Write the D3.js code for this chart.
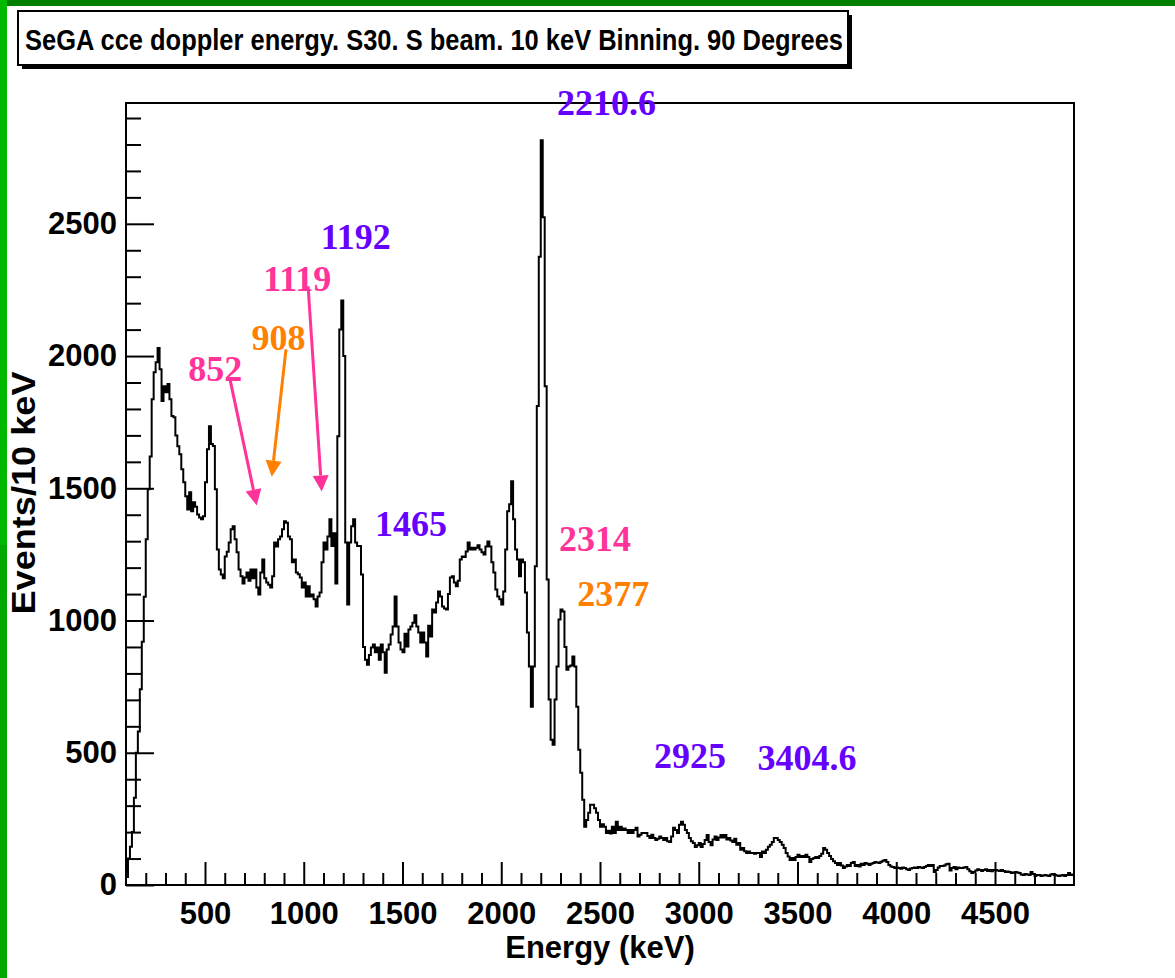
<!DOCTYPE html>
<html>
<head>
<meta charset="utf-8">
<script src="https://cdn.jsdelivr.net/npm/d3@7"></script>
<style>
  html, body { margin: 0; padding: 0; background: #ffffff; }
  svg { display: block; }
</style>
</head>
<body>
<svg id="chart" width="1175" height="978"></svg>
<script>
// ---- data -------------------------------------------------------------
const titleText = "SeGA cce doppler energy. S30. S beam. 10 keV Binning. 90 Degrees";
const xTitle = "Energy (keV)";
const yTitle = "Events/10 keV";

const binLow = 100;      // keV, lower edge of first bin
const binWidth = 10;     // keV per bin

// counts per 10 keV bin, 100 - 4900 keV
const counts = [
  30,100,145,200,330,500,580,740,920,1090,1307,1496,1620,1837,1939,1977,2030,1950,1830,1886,
  1863,1894,1837,1773,1769,1700,1659,1629,1572,1523,1470,1420,1485,1413,1447,1430,1401,1390,1383,1394,
  1523,1648,1735,1667,1660,1496,1269,1193,1174,1160,1242,1260,1295,1345,1356,1307,1258,1193,1167,1140,
  1163,1182,1150,1193,1160,1193,1125,1098,1182,1231,1160,1144,1135,1125,1167,1295,1280,1307,1318,1345,
  1375,1370,1318,1307,1220,1231,1182,1175,1163,1125,1144,1091,1130,1091,1098,1080,1053,1091,1106,1220,
  1295,1269,1318,1383,1282,1330,1140,1697,2100,2210,2000,1295,1061,1295,1356,1383,1295,1282,1282,1174,
  900,852,833,870,898,909,880,898,852,909,880,803,890,909,947,977,1091,977,917,890,
  880,950,902,966,977,992,1020,977,955,917,955,917,864,980,940,1042,1030,1068,1110,1091,
  1053,1045,1042,1100,1163,1167,1144,1130,1150,1231,1242,1240,1261,1295,1269,1275,1269,1275,1285,1269,
  1258,1250,1280,1299,1280,1220,1182,1117,1091,1080,1061,1110,1269,1413,1440,1527,1383,1269,1231,1167,
  1231,1220,1106,955,826,674,826,1205,1811,2375,2816,2525,1886,1155,701,549,530,701,826,1004,
  1042,1034,900,814,826,830,864,826,674,511,424,322,220,246,273,303,303,290,273,246,
  220,230,220,197,205,195,220,197,239,208,220,208,214,208,197,208,197,208,216,183,
  190,197,197,197,185,178,190,178,170,175,183,178,170,178,165,163,183,216,208,197,
  228,239,228,208,197,178,165,159,144,150,159,144,155,170,189,163,150,172,183,170,
  180,189,180,189,172,178,168,163,175,152,159,133,140,128,121,127,121,121,118,121,
  121,106,127,121,133,145,152,163,178,178,170,163,152,140,121,108,95,102,95,106,
  114,106,110,106,114,106,87,98,102,106,102,110,118,140,133,121,110,98,90,83,
  76,83,74,64,70,76,72,83,87,72,76,70,80,76,83,80,76,80,83,87,
  85,83,88,92,95,87,76,70,68,64,66,64,61,66,64,60,57,62,64,66,
  64,68,66,64,68,72,76,72,76,49,57,66,72,72,74,78,80,55,64,68,
  60,66,64,64,66,68,60,52,45,49,55,60,57,53,57,60,53,57,52,57,
  57,55,53,57,53,49,51,49,45,47,49,47,45,40,38,42,40,38,49,42,
  34,38,38,34,36,38,36,34,40,42,38,36,34,36,38,34,38,45,38,40
];

const xMajorTicks = [500, 1000, 1500, 2000, 2500, 3000, 3500, 4000, 4500];
const yMajorTicks = [0, 500, 1000, 1500, 2000, 2500];

// peak annotations: text, colour group, anchor (keV, counts) of the text's left baseline
const peakLabels        = ["2210.6", "1192", "1119", "908", "852", "1465", "2314", "2377", "2925", "3404.6"];
const peakGroups        = ["known", "known", "new", "tentative", "new", "known", "new", "tentative", "known", "known"];
const peakLabelEnergy   = [2282, 1086, 795, 736, 415, 1361, 2292, 2385, 2773, 3298];
const peakLabelCounts   = [2911, 2406, 2246, 2022, 1905, 1318, 1262, 1056, 442, 435];

// arrows from the weak-line labels down to the spectrum
const arrowGroups       = ["new", "tentative", "new"];
const arrowFromEnergy   = [627, 910, 1022];
const arrowFromCounts   = [1911, 2025, 2264];
const arrowToEnergy     = [762, 838, 1091];
const arrowToCounts     = [1435, 1544, 1488];

// ---- styling ----------------------------------------------------------
const groupColor = { known: "#6600ff", new: "#ff3399", tentative: "#ff8000" };
const sansBold = "'Liberation Sans', Arial, Helvetica, sans-serif";
const serif = "'Liberation Serif', 'Times New Roman', serif";

const W = 1175, H = 978;
const plot = { left: 126, right: 1074, top: 103, bottom: 885 };

const svg = d3.select("#chart");

// page edge bars
svg.append("rect").attr("x", 0).attr("y", 0).attr("width", W).attr("height", 6).attr("fill", "#008000");
svg.append("rect").attr("x", 0).attr("y", 0).attr("width", 7).attr("height", 545).attr("fill", "#00b800");
svg.append("rect").attr("x", 0).attr("y", 545).attr("width", 7).attr("height", H - 545).attr("fill", "#00a800");

// ---- scales -----------------------------------------------------------
const binHigh = binLow + binWidth * counts.length;
const x = d3.scaleLinear().domain([binLow, binHigh]).range([plot.left, plot.right]);
const y = d3.scaleLinear().domain([0, d3.max(counts) * 1.05]).range([plot.bottom, plot.top]);

// ---- axes (ticks drawn inside the frame) ------------------------------
const xMinor = d3.range(binLow + 100, binHigh, 100).filter(v => v % 500 !== 0);
const yMinor = d3.range(100, y.domain()[1], 100).filter(v => v % 500 !== 0);

function styleAxis(g) {
  g.select(".domain").remove();
  g.selectAll(".tick line").attr("stroke", "#000").attr("stroke-width", 2);
  g.selectAll(".tick text")
    .attr("fill", "#000")
    .style("font-family", sansBold)
    .style("font-weight", "bold")
    .style("font-size", "31px");
}

svg.append("g")
  .attr("transform", `translate(0,${plot.bottom})`)
  .call(d3.axisBottom(x).tickValues(xMinor).tickSize(-12).tickFormat(""))
  .call(styleAxis);
svg.append("g")
  .attr("transform", `translate(0,${plot.bottom})`)
  .call(d3.axisBottom(x).tickValues(xMajorTicks).tickSize(-23).tickPadding(17).tickFormat(d3.format("d")))
  .call(styleAxis);

svg.append("g")
  .attr("transform", `translate(${plot.left},0)`)
  .call(d3.axisLeft(y).tickValues(yMinor).tickSize(-15).tickFormat(""))
  .call(styleAxis);
svg.append("g")
  .attr("transform", `translate(${plot.left},0)`)
  .call(d3.axisLeft(y).tickValues(yMajorTicks).tickSize(-28).tickPadding(9).tickFormat(d3.format("d")))
  .call(styleAxis);

// ---- histogram --------------------------------------------------------
const steps = counts.map((c, i) => [binLow + i * binWidth, c]);
steps.push([binHigh, counts[counts.length - 1]]);
const stepLine = d3.line()
  .x(d => x(d[0]))
  .y(d => y(d[1]))
  .curve(d3.curveStepAfter);

svg.append("path")
  .datum(steps)
  .attr("d", stepLine)
  .attr("fill", "none")
  .attr("stroke", "#000")
  .attr("stroke-width", 2)
  .attr("stroke-linejoin", "miter");

// frame
svg.append("rect")
  .attr("x", plot.left).attr("y", plot.top)
  .attr("width", plot.right - plot.left).attr("height", plot.bottom - plot.top)
  .attr("fill", "none").attr("stroke", "#000").attr("stroke-width", 2);

// ---- axis titles ------------------------------------------------------
svg.append("text")
  .attr("x", (plot.left + plot.right) / 2).attr("y", 958)
  .attr("text-anchor", "middle")
  .style("font-family", sansBold).style("font-weight", "bold").style("font-size", "31px")
  .text(xTitle);

svg.append("text")
  .attr("transform", "translate(35,493) rotate(-90)")
  .attr("text-anchor", "middle")
  .attr("textLength", 243).attr("lengthAdjust", "spacingAndGlyphs")
  .style("font-family", sansBold).style("font-weight", "bold").style("font-size", "33px")
  .text(yTitle);

// ---- title box with drop shadow ---------------------------------------
const tb = { x: 18, y: 11, w: 830, h: 54, shadow: 4 };
svg.append("rect").attr("x", tb.x + tb.shadow).attr("y", tb.y + tb.shadow)
  .attr("width", tb.w).attr("height", tb.h).attr("fill", "#000");
svg.append("rect").attr("x", tb.x).attr("y", tb.y)
  .attr("width", tb.w).attr("height", tb.h)
  .attr("fill", "#fff").attr("stroke", "#000").attr("stroke-width", 2);
svg.append("text")
  .attr("x", 25).attr("y", 50)
  .attr("textLength", 818).attr("lengthAdjust", "spacingAndGlyphs")
  .style("font-family", sansBold).style("font-weight", "bold").style("font-size", "29px")
  .text(titleText);

// ---- arrows -----------------------------------------------------------
const arrows = arrowGroups.map((g, i) => ({
  color: groupColor[g],
  x1: x(arrowFromEnergy[i]), y1: y(arrowFromCounts[i]),
  x2: x(arrowToEnergy[i]),   y2: y(arrowToCounts[i])
}));
const headLen = 16, headHalf = 8;
arrows.forEach(a => {
  const dx = a.x2 - a.x1, dy = a.y2 - a.y1;
  const len = Math.hypot(dx, dy);
  const ux = dx / len, uy = dy / len;
  const bx = a.x2 - ux * headLen, by = a.y2 - uy * headLen;
  svg.append("line")
    .attr("x1", a.x1).attr("y1", a.y1).attr("x2", bx).attr("y2", by)
    .attr("stroke", a.color).attr("stroke-width", 3);
  svg.append("path")
    .attr("d", `M${a.x2},${a.y2}L${bx - uy * headHalf},${by + ux * headHalf}L${bx + uy * headHalf},${by - ux * headHalf}Z`)
    .attr("fill", a.color);
});

// ---- peak labels ------------------------------------------------------
svg.append("g").selectAll("text")
  .data(peakLabels)
  .join("text")
  .attr("x", (d, i) => x(peakLabelEnergy[i]))
  .attr("y", (d, i) => y(peakLabelCounts[i]))
  .attr("fill", (d, i) => groupColor[peakGroups[i]])
  .style("font-family", serif).style("font-weight", "bold").style("font-size", "36px")
  .text(d => d);
</script>
</body>
</html>
